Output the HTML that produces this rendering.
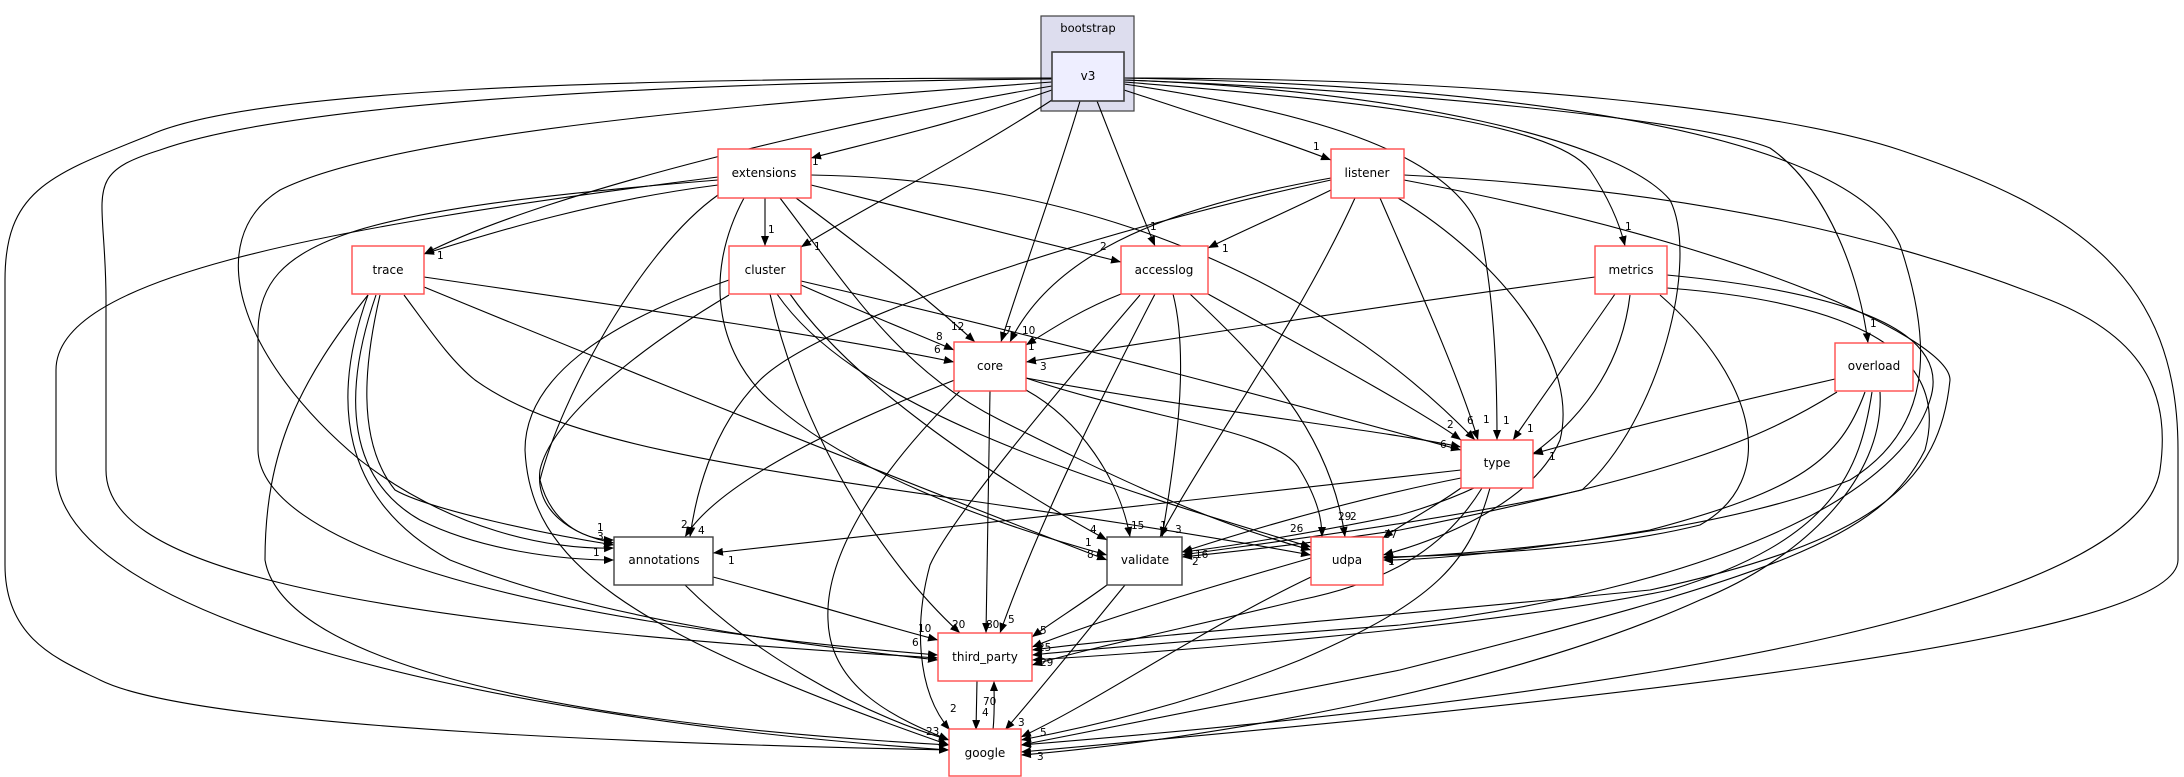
<!DOCTYPE html>
<html><head><meta charset="utf-8"><style>
html,body{margin:0;padding:0;background:#fff;}
svg{display:block;}
.e{fill:none;stroke:#000;stroke-width:1.1;marker-end:url(#a);}
.n{fill:#fff;stroke:#ff4d4d;stroke-width:1.4;}
.b{fill:#fff;stroke:#404040;stroke-width:1.4;}
.t{font-family:"DejaVu Sans","Liberation Sans",sans-serif;font-size:12px;text-anchor:middle;dominant-baseline:central;}
.l{font-family:"DejaVu Sans","Liberation Sans",sans-serif;font-size:10.5px;}
</style></head><body>
<svg width="2184" height="777" viewBox="0 0 2184 777" xmlns="http://www.w3.org/2000/svg">
<defs><marker id="a" markerUnits="userSpaceOnUse" markerWidth="10" markerHeight="8" refX="10" refY="4" orient="auto"><path d="M0,0 L10,4 L0,8 z" fill="#000"/></marker></defs>
<rect x="1041" y="16" width="93" height="95" fill="#ddddee" stroke="#404040" stroke-width="1.2"/>
<text class="t" x="1088" y="28" style="font-size:11.5px">bootstrap</text>
<g>
<!-- v3 -->
<path class="e" d="M1052,90 C950,125 880,140 811,158"/>
<path class="e" d="M1052,100 C960,160 860,210 801,247"/>
<path class="e" d="M1080,101 C1060,170 1020,280 1001,342"/>
<path class="e" d="M1097,101 C1120,160 1140,210 1155,246"/>
<path class="e" d="M1124,90 C1200,115 1280,140 1331,160"/>
<path class="e" d="M1052,86 C850,120 550,190 424,254"/>
<path class="e" d="M1052,82 C800,100 400,130 280,190 C200,240 240,360 360,460 C450,530 550,550 614,548"/>
<path class="e" d="M1052,79 C700,82 300,100 160,150 C80,175 106,190 106,300 L106,470 C106,560 300,620 938,658"/>
<path class="e" d="M1052,78 C600,78 250,90 150,135 C50,175 5,190 5,280 L5,565 C5,640 60,660 100,680 C200,730 700,745 949,750"/>
<path class="e" d="M1124,78 C1500,78 1780,110 1900,150 C2080,210 2178,280 2178,450 L2178,560 C2178,640 1600,700 1021,752"/>
<path class="e" d="M1124,80 C1400,90 1700,120 1770,148 C1830,190 1860,280 1868,343"/>
<path class="e" d="M1124,78 C1500,85 1850,130 1900,245 C1935,350 1930,430 1850,480 C1700,540 1450,555 1383,558"/>
<path class="e" d="M1124,82 C1350,100 1550,120 1590,170 C1610,200 1620,225 1625,246"/>
<path class="e" d="M1124,84 C1300,110 1450,150 1480,230 C1495,300 1497,380 1497,440"/>
<path class="e" d="M1124,80 C1400,90 1620,140 1670,200 C1700,260 1660,420 1582,490 C1450,520 1250,545 1182,555"/>
<!-- listener -->
<path class="e" d="M1404,175 C1700,190 1900,240 2050,300 C2150,340 2170,400 2160,470 C2140,600 1700,690 1021,745"/>
<path class="e" d="M1404,180 C1750,245 1950,340 1950,380 C1940,480 1880,540 1650,590 C1400,615 1150,635 1032,650"/>
<path class="e" d="M1380,198 C1420,290 1460,380 1478,440"/>
<path class="e" d="M1398,198 C1500,260 1580,360 1560,440 C1530,510 1420,545 1383,555"/>
<path class="e" d="M1355,198 C1300,320 1200,460 1160,537"/>
<path class="e" d="M1331,178 C1150,210 1050,260 1010,342"/>
<path class="e" d="M1331,190 C1280,215 1240,232 1208,248"/>
<path class="e" d="M1331,180 C1100,230 820,320 760,380 C710,430 695,500 690,537"/>
<!-- metrics -->
<path class="e" d="M1595,277 C1350,310 1100,350 1026,362"/>
<path class="e" d="M1615,294 C1580,345 1540,400 1513,440"/>
<path class="e" d="M1630,295 C1620,380 1560,470 1400,515 C1300,535 1220,548 1182,552"/>
<path class="e" d="M1660,295 C1757,380 1780,480 1700,525 C1600,550 1450,556 1383,557"/>
<path class="e" d="M1667,275 C1875,295 1950,340 1930,400 C1900,500 1700,590 1400,625 C1200,640 1080,650 1032,655"/>
<path class="e" d="M1667,288 C1825,300 1955,340 1925,450 C1880,540 1775,575 1400,670 C1250,700 1100,730 1021,745"/>
<!-- overload -->
<path class="e" d="M1835,379 C1700,410 1600,435 1533,454"/>
<path class="e" d="M1837,392 C1760,440 1675,475 1400,530 C1300,545 1220,553 1182,557"/>
<path class="e" d="M1865,392 C1840,460 1800,490 1650,530 C1500,555 1420,560 1383,560"/>
<path class="e" d="M1872,392 C1860,470 1835,540 1670,590 C1500,625 1200,650 1032,660"/>
<path class="e" d="M1880,392 C1885,480 1800,560 1700,600 C1500,690 1200,740 1021,755"/>
<!-- type -->
<path class="e" d="M1461,470 C1200,500 900,530 713,553"/>
<path class="e" d="M1461,478 C1350,500 1250,530 1182,552"/>
<path class="e" d="M1461,488 C1430,510 1400,525 1383,538"/>
<path class="e" d="M1482,488 C1450,540 1400,580 1300,600 C1200,625 1100,645 1032,665"/>
<path class="e" d="M1490,488 C1470,560 1440,600 1300,660 C1200,700 1100,725 1021,740"/>
<!-- accesslog -->
<path class="e" d="M1121,294 C1080,310 1050,330 1026,345"/>
<path class="e" d="M1208,294 C1300,345 1420,410 1461,440"/>
<path class="e" d="M1173,294 C1190,360 1175,460 1162,537"/>
<path class="e" d="M1190,294 C1260,360 1330,430 1345,537"/>
<path class="e" d="M1155,294 C1100,400 1040,520 1000,633"/>
<path class="e" d="M1140,295 C1050,400 950,520 930,565 C915,620 915,690 950,730"/>
<!-- core -->
<path class="e" d="M960,378 C850,420 720,480 685,537"/>
<path class="e" d="M1026,390 C1080,420 1120,480 1130,537"/>
<path class="e" d="M1026,378 C1150,420 1280,430 1300,470 C1318,500 1322,520 1322,537"/>
<path class="e" d="M1026,378 C1200,410 1380,430 1461,447"/>
<path class="e" d="M990,391 L986,633"/>
<path class="e" d="M960,391 C870,480 825,560 828,620 C830,690 900,720 949,740"/>
<!-- cluster -->
<path class="e" d="M801,285 C880,320 920,335 954,350"/>
<path class="e" d="M801,281 C1100,350 1350,420 1461,450"/>
<path class="e" d="M790,294 C850,380 980,470 1107,540"/>
<path class="e" d="M777,294 C850,400 1050,470 1311,547"/>
<path class="e" d="M770,294 C800,430 880,560 960,633"/>
<path class="e" d="M729,295 C620,360 550,425 540,470 C535,510 570,535 614,543"/>
<path class="e" d="M729,280 C600,325 525,380 525,450 C530,560 620,630 949,745"/>
<!-- extensions -->
<path class="e" d="M765,198 L765,246"/>
<path class="e" d="M796,198 C880,260 940,310 975,342"/>
<path class="e" d="M811,185 C950,220 1050,245 1121,262"/>
<path class="e" d="M811,175 C1130,180 1350,310 1475,440"/>
<path class="e" d="M744,198 C700,280 720,360 775,405 C850,470 980,520 1107,555"/>
<path class="e" d="M780,198 C850,290 900,370 1000,420 C1100,470 1200,520 1311,550"/>
<path class="e" d="M718,185 C600,200 500,230 424,254"/>
<path class="e" d="M718,195 C640,250 560,400 540,480 C550,520 580,540 614,540"/>
<path class="e" d="M718,180 C350,210 260,240 258,330 L258,450 C260,540 500,620 938,655"/>
<path class="e" d="M718,177 C300,230 56,280 56,370 L56,470 C56,620 500,720 949,750"/>
<!-- trace -->
<path class="e" d="M424,277 C650,310 850,340 954,362"/>
<path class="e" d="M424,287 C650,380 900,480 1107,560"/>
<path class="e" d="M404,295 C430,330 450,360 475,380 C600,470 900,480 1311,555"/>
<path class="e" d="M380,295 C365,360 355,440 395,490 C430,510 550,535 614,545"/>
<path class="e" d="M376,295 C340,400 350,480 420,520 C480,550 560,560 614,560"/>
<path class="e" d="M368,295 C330,400 340,500 450,560 C600,620 800,645 938,660"/>
<path class="e" d="M368,295 C300,380 265,450 265,560 C280,650 500,720 949,745"/>
<!-- bottom -->
<path class="e" d="M713,577 C800,600 880,625 938,640"/>
<path class="e" d="M685,585 C750,650 850,710 949,740"/>
<path class="e" d="M1107,585 C1080,605 1055,620 1032,637"/>
<path class="e" d="M1125,585 C1080,640 1040,690 1005,730"/>
<path class="e" d="M1311,558 C1200,590 1100,620 1032,647"/>
<path class="e" d="M1311,577 C1200,630 1100,700 1021,737"/>
<path class="e" d="M977,681 L976,730"/>
<path class="e" d="M993,730 C995,710 994,700 994,681"/>
</g>
<!-- nodes -->
<rect x="1052" y="52" width="72" height="49" fill="#eeeeff" stroke="#404040" stroke-width="1.6"/><text class="t" x="1088" y="76">v3</text>
<rect class="n" x="718" y="149" width="93" height="49"/><text class="t" x="764" y="173">extensions</text>
<rect class="n" x="1331" y="149" width="73" height="49"/><text class="t" x="1367" y="173">listener</text>
<rect class="n" x="352" y="246" width="72" height="48"/><text class="t" x="388" y="270">trace</text>
<rect class="n" x="729" y="246" width="72" height="48"/><text class="t" x="765" y="270">cluster</text>
<rect class="n" x="1121" y="246" width="87" height="48"/><text class="t" x="1164" y="270">accesslog</text>
<rect class="n" x="1595" y="246" width="72" height="48"/><text class="t" x="1631" y="270">metrics</text>
<rect class="n" x="954" y="342" width="72" height="49"/><text class="t" x="990" y="366">core</text>
<rect class="n" x="1835" y="343" width="78" height="48"/><text class="t" x="1874" y="366">overload</text>
<rect class="n" x="1461" y="440" width="72" height="48"/><text class="t" x="1497" y="463">type</text>
<rect class="b" x="614" y="537" width="99" height="48"/><text class="t" x="664" y="560">annotations</text>
<rect class="b" x="1107" y="537" width="75" height="48"/><text class="t" x="1145" y="560">validate</text>
<rect class="n" x="1311" y="537" width="72" height="48"/><text class="t" x="1347" y="560">udpa</text>
<rect class="n" x="938" y="633" width="94" height="48"/><text class="t" x="985" y="657">third_party</text>
<rect class="n" x="949" y="729" width="72" height="47"/><text class="t" x="985" y="753">google</text>
<!-- edge labels -->
<g class="l">
<text x="812" y="165">1</text><text x="814" y="250">1</text><text x="1005" y="334">7</text><text x="1150" y="230">1</text><text x="1313" y="150">1</text>
<text x="437" y="259">1</text><text x="768" y="233">1</text><text x="951" y="330">12</text><text x="1100" y="250">2</text><text x="1022" y="334">10</text>
<text x="1222" y="252">1</text><text x="1028" y="350">1</text><text x="1040" y="370">3</text><text x="936" y="340">8</text><text x="934" y="353">6</text>
<text x="1625" y="230">1</text><text x="1870" y="327">1</text><text x="1447" y="428">2</text><text x="1467" y="424">6</text><text x="1483" y="423">1</text>
<text x="1503" y="424">1</text><text x="1527" y="432">1</text><text x="1440" y="448">6</text><text x="1549" y="460">1</text>
<text x="681" y="528">2</text><text x="698" y="534">4</text><text x="597" y="531">1</text><text x="597" y="540">3</text><text x="593" y="556">1</text><text x="728" y="564">1</text>
<text x="1131" y="529">15</text><text x="1160" y="529">1</text><text x="1175" y="533">3</text><text x="1090" y="533">4</text><text x="1085" y="546">1</text><text x="1087" y="558">8</text>
<text x="1195" y="558">16</text><text x="1192" y="565">2</text><text x="1290" y="532">26</text><text x="1338" y="520">29</text><text x="1350" y="520">2</text><text x="1384" y="538">37</text><text x="1388" y="565">1</text>
<text x="952" y="628">20</text><text x="986" y="628">80</text><text x="1008" y="623">5</text><text x="1040" y="634">5</text><text x="918" y="632">10</text><text x="912" y="646">6</text>
<text x="1038" y="651">25</text><text x="1040" y="666">29</text><text x="950" y="712">2</text><text x="982" y="716">4</text><text x="983" y="705">70</text>
<text x="1018" y="726">3</text><text x="1040" y="736">5</text><text x="926" y="735">23</text><text x="1037" y="760">3</text>
</g>
</svg>
</body></html>
